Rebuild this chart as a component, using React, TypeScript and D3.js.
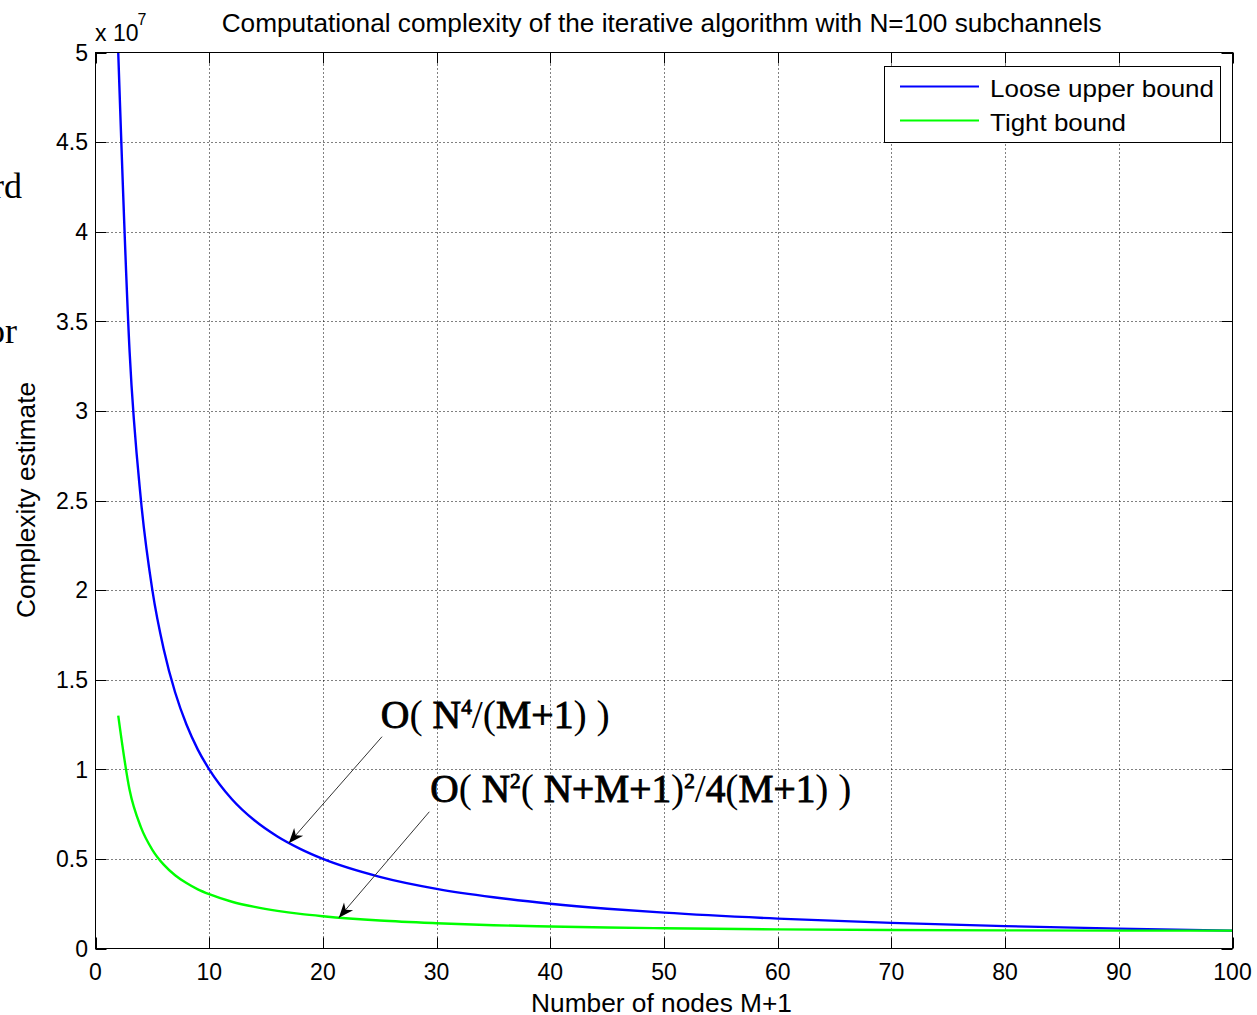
import React from "react";
import * as d3 from "d3";

// Number of nodes M+1
const X_VALUES = [2, 3, 4, 5, 6, 7, 8, 9, 10, 12, 14, 16, 18, 20, 25, 30, 35, 40, 45, 50, 60, 70, 80, 90, 100];
// Loose upper bound, in units of 1e6
const LOOSE = [50, 33.3, 25, 20, 16.7, 14.3, 12.5, 11.1, 10, 8.33, 7.14, 6.25, 5.56, 5, 4, 3.33, 2.86, 2.5, 2.22, 2, 1.67, 1.43, 1.25, 1.11, 1.0];
// Tight bound, in units of 1e6
const TIGHT = [13.0, 8.84, 6.76, 5.51, 4.68, 4.09, 3.65, 3.3, 3.03, 2.61, 2.32, 2.1, 1.93, 1.8, 1.56, 1.41, 1.3, 1.23, 1.17, 1.13, 1.07, 1.03, 1.01, 1.0, 1.0];

const X_TICKS = [0, 10, 20, 30, 40, 50, 60, 70, 80, 90, 100];
const Y_TICKS = [0, 0.5, 1, 1.5, 2, 2.5, 3, 3.5, 4, 4.5, 5];
const Y_TICK_LABELS = ["0", "0.5", "1", "1.5", "2", "2.5", "3", "3.5", "4", "4.5", "5"];

const SERIES_NAMES = ["Loose upper bound", "Tight bound"];
const SERIES_COLORS = ["#0000ff", "#00ff00"];

const TITLE = "Computational complexity of the iterative algorithm with N=100 subchannels";
const X_LABEL = "Number of nodes M+1";
const Y_LABEL = "Complexity estimate";

const W = 1257;
const H = 1015;
const M = { left: 95.5, right: 1232.5, top: 52.5, bottom: 948.5 };

const SANS = "'Liberation Sans', Arial, Helvetica, sans-serif";
const SERIF = "'Liberation Serif', 'Times New Roman', Times, serif";

// tokens of the annotation formulas: [text, kind] (b = heavy, r = regular, s = superscript)
const ANN1: [string, string][] = [
  ["O", "b"], ["( ", "r"], ["N", "b"], ["4", "s"], ["/(", "r"], ["M+1", "b"], [") )", "r"],
];
const ANN2: [string, string][] = [
  ["O", "b"], ["( ", "r"], ["N", "b"], ["2", "s"], ["( ", "r"], ["N+M+1", "b"], [")", "r"], ["2", "s"],
  ["/", "r"], ["4", "b"], ["(", "r"], ["M+1", "b"], [") )", "r"],
];

function Formula({ tokens, x, y, len }: { tokens: [string, string][]; x: number; y: number; len: number }) {
  let prevSup = false;
  const parts = tokens.map(([t, k], i) => {
    let dy = 0;
    if (k === "s" && !prevSup) dy = -14;
    if (k !== "s" && prevSup) dy = 14;
    prevSup = k === "s";
    const heavy = k === "b" || k === "s";
    return (
      <tspan
        key={i}
        dy={dy || undefined}
        stroke={heavy ? "#000" : "none"}
        strokeWidth={heavy ? 0.9 : 0}
        fontSize={k === "s" ? 21 : undefined}
      >
        {t}
      </tspan>
    );
  });
  return (
    <text x={x} y={y} fontFamily={SERIF} fontSize={39} textLength={len} lengthAdjust="spacingAndGlyphs" style={{ whiteSpace: "pre" }}>
      {parts}
    </text>
  );
}

export default function App() {
  const x = d3.scaleLinear().domain([0, 100]).range([M.left, M.right]);
  const y = d3.scaleLinear().domain([0, 5]).range([M.bottom, M.top]);
  const line = d3
    .line<[number, number]>()
    .x((d) => x(d[0]))
    .y((d) => y(d[1] / 10))
    .curve(d3.curveMonotoneX);

  const series = [LOOSE, TIGHT].map((vals) => X_VALUES.map((xv, i) => [xv, vals[i]] as [number, number]));
  const tick = 11;

  const ann = [
    { tail: [25.2, 1.182], tip: [17, 0.588] },
    { tail: [29.36, 0.763], tip: [21.4, 0.172] },
  ];

  const arrowHead = (tx: number, ty: number, fx: number, fy: number) => {
    const ang = Math.atan2(ty - fy, tx - fx);
    const L = 15;
    const Wd = 6;
    const bx = tx - L * Math.cos(ang);
    const by = ty - L * Math.sin(ang);
    const px = -Math.sin(ang);
    const py = Math.cos(ang);
    const ix = tx - L * 0.7 * Math.cos(ang);
    const iy = ty - L * 0.7 * Math.sin(ang);
    return `M${tx},${ty}L${bx + px * Wd},${by + py * Wd}L${ix},${iy}L${bx - px * Wd},${by - py * Wd}Z`;
  };

  return (
    <svg
      width={W}
      height={H}
      style={{ position: "absolute", left: 0, top: 0, background: "#fff", overflow: "hidden" }}
    >
      <rect x={0} y={0} width={W} height={H} fill="#fff" />
      {/* fragments of the surrounding page text */}
      <text x={22} y={198} textAnchor="end" fontFamily={SERIF} fontSize={36}>
        rd
      </text>
      <text x={17} y={342.7} textAnchor="end" fontFamily={SERIF} fontSize={36}>
        or
      </text>

      <defs>
        <clipPath id="plotclip">
          <rect x={M.left} y={M.top} width={M.right - M.left} height={M.bottom - M.top} />
        </clipPath>
      </defs>

      {/* grid */}
      <g stroke="#000" strokeWidth={1} strokeDasharray="1 3">
        {X_TICKS.filter((t) => t > 0 && t < 100).map((t) => (
          <line key={"gx" + t} x1={Math.round(x(t)) + 0.5} x2={Math.round(x(t)) + 0.5} y1={M.top} y2={M.bottom} />
        ))}
        {Y_TICKS.filter((t) => t > 0 && t < 5).map((t) => (
          <line key={"gy" + t} x1={M.left} x2={M.right} y1={Math.round(y(t)) + 0.5} y2={Math.round(y(t)) + 0.5} />
        ))}
      </g>

      {/* ticks */}
      <g stroke="#000" strokeWidth={1}>
        {X_TICKS.map((t) => {
          const xp = Math.round(x(t)) + 0.5;
          return (
            <g key={"tx" + t}>
              <line x1={xp} x2={xp} y1={M.bottom} y2={M.bottom - tick} />
              <line x1={xp} x2={xp} y1={M.top} y2={M.top + tick} />
            </g>
          );
        })}
        {Y_TICKS.map((t) => {
          const yp = Math.round(y(t)) + 0.5;
          return (
            <g key={"ty" + t}>
              <line x1={M.left} x2={M.left + tick} y1={yp} y2={yp} />
              <line x1={M.right} x2={M.right - tick} y1={yp} y2={yp} />
            </g>
          );
        })}
      </g>

      {/* curves */}
      <g clipPath="url(#plotclip)" fill="none" strokeWidth={2.4} strokeLinejoin="round">
        {series.map((s, i) => (
          <path key={i} d={line(s) || ""} stroke={SERIES_COLORS[i]} />
        ))}
      </g>

      {/* axes box */}
      <rect
        x={M.left}
        y={M.top}
        width={M.right - M.left}
        height={M.bottom - M.top}
        fill="none"
        stroke="#000"
        strokeWidth={1}
      />

      {/* tick labels */}
      <g fontFamily={SANS} fontSize={23} fill="#000">
        {X_TICKS.map((t) => (
          <text key={"lx" + t} x={x(t)} y={980} textAnchor="middle">
            {t}
          </text>
        ))}
        {Y_TICKS.map((t, i) => (
          <text key={"ly" + t} x={88} y={y(t) + 8.3} textAnchor="end">
            {Y_TICK_LABELS[i]}
          </text>
        ))}
      </g>

      {/* exponent */}
      <text x={95} y={40.7} fontFamily={SANS} fontSize={23}>
        x 10
      </text>
      <text x={137.5} y={25} fontFamily={SANS} fontSize={16}>
        7
      </text>

      {/* title and labels */}
      <text
        x={221.7}
        y={31.7}
        fontFamily={SANS}
        fontSize={25.5}
        textLength={880}
        lengthAdjust="spacingAndGlyphs"
      >
        {TITLE}
      </text>
      <text
        x={531}
        y={1011.5}
        fontFamily={SANS}
        fontSize={25.5}
        textLength={261}
        lengthAdjust="spacingAndGlyphs"
      >
        {X_LABEL}
      </text>
      <text
        transform="translate(34.5,500) rotate(-90)"
        textAnchor="middle"
        fontFamily={SANS}
        fontSize={25.5}
        textLength={236}
        lengthAdjust="spacingAndGlyphs"
      >
        {Y_LABEL}
      </text>

      {/* legend */}
      <rect x={884.5} y={66.5} width={336} height={76} fill="#fff" stroke="#000" strokeWidth={1} />
      {SERIES_NAMES.map((n, i) => (
        <g key={n}>
          <line x1={900} x2={979} y1={86.5 + i * 34} y2={86.5 + i * 34} stroke={SERIES_COLORS[i]} strokeWidth={2} />
          <text
            x={990}
            y={96.7 + i * 34}
            fontFamily={SANS}
            fontSize={24}
            textLength={i === 0 ? 224 : 136}
            lengthAdjust="spacingAndGlyphs"
          >
            {n}
          </text>
        </g>
      ))}

      {/* annotations */}
      {ann.map((a, i) => {
        const tx = x(a.tip[0]);
        const ty = y(a.tip[1]);
        const fx = x(a.tail[0]);
        const fy = y(a.tail[1]);
        return (
          <g key={"ann" + i}>
            <line x1={fx} y1={fy} x2={tx} y2={ty} stroke="#333" strokeWidth={1} />
            <path d={arrowHead(tx, ty, fx, fy)} fill="#000" />
          </g>
        );
      })}
      <Formula tokens={ANN1} x={x(25.09)} y={y(1.232)} len={229} />
      <Formula tokens={ANN2} x={x(29.45)} y={y(0.819)} len={421} />
    </svg>
  );
}
